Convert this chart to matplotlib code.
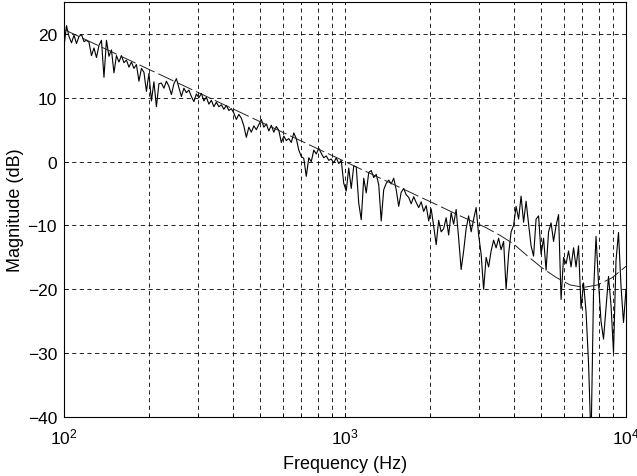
import matplotlib
matplotlib.use("Agg")
import matplotlib.pyplot as plt
import numpy as np
from matplotlib.ticker import LogLocator, FixedLocator

plt.rcParams['font.family'] = ['Liberation Sans', 'DejaVu Sans']
plt.rcParams['mathtext.default'] = 'regular'
plt.rcParams['lines.scale_dashes'] = False

# measured magnitude (dB), log-spaced bins from 100 Hz to 10 kHz
meas_db = [
    18.0, 21.3, 19.6, 18.6, 19.8, 18.5, 19.6, 19.9, 18.8, 19.0,
    18.7, 16.6, 17.8, 16.3, 18.2, 19.0, 13.2, 19.0, 16.5, 17.5,
    13.9, 16.6, 15.6, 16.6, 15.5, 15.9, 14.8, 15.6, 14.6, 15.2,
    12.6, 14.6, 14.0, 11.0, 13.8, 9.5, 12.5, 8.6, 12.2,
    12.3, 11.5, 12.6, 11.8, 10.5, 12.2, 13.0, 11.6, 10.2, 11.5,
    10.8, 11.2, 10.2, 9.4, 10.6, 10.0, 10.7, 9.5, 10.1, 9.0,
    9.6, 8.6, 9.3, 8.6, 8.9, 8.2, 8.8, 8.0, 8.3, 7.6,
    6.6, 7.4, 6.8, 5.6, 3.8, 5.4, 4.6, 5.6, 5.0, 5.8,
    6.6, 5.4, 5.9, 4.8, 5.7, 4.6, 5.5, 4.9, 3.0, 4.0,
    3.3, 3.6, 3.0, 4.5, 3.6, 1.8, 0.8, 0.5, -2.3, 0.6,
    0.0, 1.8, 1.2, 2.1, 1.3, 0.6, 0.9, 0.2, 0.4, -0.2,
    0.6, -0.3, 0.2, -3.4, -4.6, -1.0,
    -4.2, -0.7, -0.8, -6.5, -9.1, -2.6, -4.9, -1.7, -1.4, -2.5,
    -2.0, -3.6, -9.3, -4.4, -3.4, -2.9, -3.5, -2.6, -4.4, -7.0,
    -4.8, -4.2, -5.2, -5.6, -6.6, -5.5, -6.4, -7.2, -6.3, -7.8,
    -6.9, -9.3, -7.4, -10.1, -13.0, -9.2, -11.0,
    -10.5, -8.8, -11.5, -8.0, -9.8, -7.5, -12.0, -16.9, -14.0, -10.5,
    -8.5, -11.0, -9.0, -7.2, -11.5, -14.5, -20.0, -15.0, -16.5, -14.0,
    -12.3, -13.5, -12.0, -13.8, -12.5, -20.0, -14.5, -11.0, -10.0, -7.0,
    -9.0, -5.4, -9.5, -6.2, -9.8, -13.2, -14.8, -9.0, -8.5, -14.5,
    -12.0, -17.0, -11.0, -9.6, -12.5, -10.0, -8.3, -21.6, -15.0, -16.0,
    -14.0, -16.5, -13.5, -16.5, -13.2, -23.0, -19.0, -23.5, -31.5, -44.0,
    -20.5, -11.7, -19.0, -25.0, -27.8, -23.0, -18.0, -22.5, -29.9, -15.5,
    -11.1, -19.5, -25.2, -20.0,
]
meas_hz = np.logspace(2, 4, len(meas_db))

# model fit (dB), every 0.05 decade from 100 Hz to 10 kHz
fit_db = [
    20.7, 19.66, 18.63, 17.6, 16.56, 15.53, 14.49, 13.46, 12.42, 11.39,
    10.35, 9.32, 8.28, 7.25, 6.21, 5.18, 4.14, 3.11, 2.07, 1.04,
    0.0, -1.04, -2.07, -3.1, -4.14, -5.18, -6.21, -7.25, -8.3, -9.3,
    -10.3, -11.5, -12.9, -14.8, -16.6, -18.1, -19.3, -19.7, -19.3, -18.2,
    -16.4,
]
fit_hz = np.logspace(2, 4, len(fit_db))

fig = plt.figure(figsize=(6.37, 4.77), dpi=100)
ax = fig.add_axes([64/637, 1 - 418/477, 562/637, 415/477])

ax.plot(meas_hz, meas_db, color='black', lw=0.8)
ax.plot(fit_hz, fit_db, color='#222222', lw=0.7, dashes=(12, 3))

ax.set_xscale('log')
ax.set_xlim(100, 10000)
ax.set_ylim(-40, 25)
ax.yaxis.set_major_locator(FixedLocator([-40, -30, -20, -10, 0, 10, 20]))
ax.xaxis.set_minor_locator(LogLocator(base=10, subs=np.arange(2, 10)))

ax.grid(True, which='major', color='black', lw=0.6, dashes=(3, 2.5))
ax.grid(True, which='minor', axis='x', color='black', lw=0.6, dashes=(3, 2.5))

ax.tick_params(direction='in', length=3, width=0.6, labelsize=12.5, pad=5)
ax.tick_params(axis='x', pad=7)
ax.tick_params(which='minor', direction='in', length=2, width=0.6)
for s in ax.spines.values():
    s.set_linewidth(0.8)

ax.set_xlabel('Frequency (Hz)', fontsize=13, va='center')
ax.set_ylabel('Magnitude (dB)', fontsize=13, va='center')
ax.xaxis.set_label_coords(0.5, -0.112)
ax.yaxis.set_label_coords(-0.087, 0.5)

fig.savefig('out.png', dpi=100)
